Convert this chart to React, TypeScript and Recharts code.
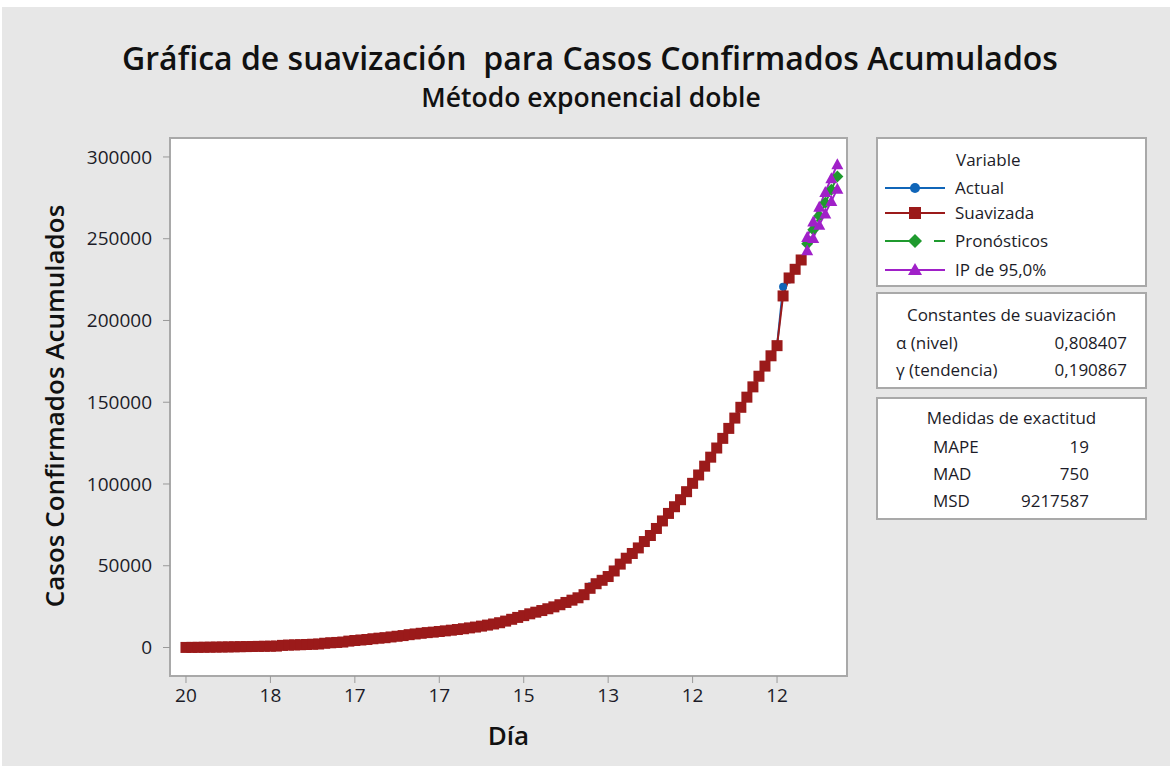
import { ComposedChart, Line, XAxis, YAxis } from 'recharts';

// día index -> label shown on the axis (every 14 observations)
const tickIdx = [0, 14, 28, 42, 56, 70, 84, 98];
const dayLabels = ['20', '18', '17', '17', '15', '13', '12', '12'];
const yTicks = [0, 50000, 100000, 150000, 200000, 250000, 300000];

const actual = [
  50, 80, 110, 150, 200, 250, 300, 360, 430, 500, 560, 620, 680, 740, 800, 870,
  1400, 1500, 1600, 1700, 1850, 2000, 2150,
  2700, 2900, 3100, 3350,
  4000, 4300, 4600, 4900,
  5400, 5700, 6000,
  6500, 6900, 7300,
  7900, 8300, 8700, 9100, 9400, 9800,
  10200, 10600, 11000, 11500, 12000, 12500, 13100, 13700,
  14400, 15200, 16200, 17300, 18400, 19500, 20600, 21600, 22600, 23700,
  24900, 26200, 27600, 29000, 30500, 32800,
  37500, 39000, 41000, 43500, 47500, 51500,
  54500, 57500, 61000, 65000, 68500, 73000, 77500, 82000,
  86000, 90500, 95500, 100500, 105500, 111000, 116500, 122000, 128000, 134000,
  140500, 147000, 153000, 159500, 166000, 172000, 178500, 184500,
  220600, 225000, 231400, 236700,
];

const smoothed = [
  40, 70, 105, 145, 195, 250, 300, 355, 425, 500, 560, 620, 680, 740, 800, 865,
  1300, 1480, 1590, 1700, 1840, 1990, 2140,
  2600, 2880, 3090, 3330,
  3900, 4280, 4590, 4890,
  5350, 5700, 6000,
  6450, 6880, 7290,
  7850, 8290, 8700, 9100, 9400, 9790,
  10180, 10590, 11000, 11480, 11990, 12500, 13080, 13700,
  14380, 15150, 16150, 17250, 18400, 19500, 20600, 21600, 22600, 23700,
  24850, 26150, 27550, 28950, 30400, 32300,
  36200, 39000, 41100, 43400, 46800, 51000,
  54600, 57500, 60900, 64800, 68500, 72800, 77400, 82000,
  86100, 90400, 95300, 100400, 105500, 110900, 116400, 122000, 127900, 134000,
  140300, 146900, 153100, 159400, 165900, 172100, 178400, 184600,
  215000, 226000, 231300, 237000,
];

const forecast = [247000, 255500, 264000, 272000, 280000, 288000];
const upperPI = [251000, 260500, 269500, 278500, 287000, 295500];
const lowerPI = [243000, 250500, 258500, 265500, 273000, 280500];

const BLUE = '#1065b8';
const RED = '#9b1a1a';
const GREEN = '#1f9a2e';
const PURPLE = '#a020c8';
const FONT = '"Open Sans", "Noto Sans", sans-serif';
const TXT = '#1c1c28';

const actualData = actual.map((v, i) => ({ x: i, y: v }));
const smoothData = smoothed.map((v, i) => ({ x: i, y: v }));
const fStart = actual.length;
const fcData = forecast.map((v, i) => ({ x: fStart + i, y: v }));
const upData = upperPI.map((v, i) => ({ x: fStart + i, y: v }));
const loData = lowerPI.map((v, i) => ({ x: fStart + i, y: v }));

const Square = (p: any) =>
  p.cx == null || p.cy == null ? <g key={p.key} /> : (
    <rect key={p.key} x={p.cx - 5.5} y={p.cy - 5.5} width={11} height={11} fill={RED} />
  );
const Circle = (p: any) =>
  p.cx == null || p.cy == null ? <g key={p.key} /> : (
    <circle key={p.key} cx={p.cx} cy={p.cy} r={4} fill={BLUE} />
  );
const Diamond = (p: any) =>
  p.cx == null || p.cy == null ? <g key={p.key} /> : (
    <polygon key={p.key} points={`${p.cx},${p.cy - 6} ${p.cx + 6},${p.cy} ${p.cx},${p.cy + 6} ${p.cx - 6},${p.cy}`} fill={GREEN} />
  );
const Triangle = (p: any) =>
  p.cx == null || p.cy == null ? <g key={p.key} /> : (
    <polygon key={p.key} points={`${p.cx},${p.cy - 6} ${p.cx + 6},${p.cy + 5} ${p.cx - 6},${p.cy + 5}`} fill={PURPLE} />
  );

function LegendRow({ y, color, label, marker, dashed }: any) {
  return (
    <div style={{ position: 'absolute', left: 0, top: y, height: 22, width: 270 }}>
      <svg width={70} height={22} style={{ position: 'absolute', left: 6, top: 0 }}>
        <line x1={1} y1={11} x2={61} y2={11} stroke={color} strokeWidth={2} strokeDasharray={dashed ? '32 17 12' : undefined} />
        {marker === 'circle' && <circle cx={31} cy={11} r={5} fill={color} />}
        {marker === 'square' && <rect x={25} y={5} width={12} height={12} fill={color} />}
        {marker === 'diamond' && <polygon points="31,4 38,11 31,18 24,11" fill={color} />}
        {marker === 'triangle' && <polygon points="31,4 38,16 24,16" fill={color} />}
      </svg>
      <span style={{ position: 'absolute', left: 77, top: 0, lineHeight: '22px', fontSize: 17 }}>{label}</span>
    </div>
  );
}

const boxStyle: any = {
  position: 'absolute',
  left: 876,
  width: 271,
  background: '#fff',
  border: '2px solid #a9a9a9',
  boxSizing: 'border-box',
  fontFamily: FONT,
  color: TXT,
};

export default function App() {
  return (
    <div style={{ position: 'absolute', left: 0, top: 0, width: 1175, height: 771, background: '#fff', overflow: 'hidden' }}>
      <div style={{ position: 'absolute', left: 2, top: 7, width: 1168, height: 759, background: '#e7e7e7' }} />
      <div style={{ position: 'absolute', left: 0, width: 1180, top: 36, textAlign: 'center', fontFamily: FONT, fontWeight: 600, fontSize: 32, color: '#111' }}>
        Gráfica de suavización&nbsp; para Casos Confirmados Acumulados
      </div>
      <div style={{ position: 'absolute', left: 0, width: 1182, top: 79, textAlign: 'center', fontFamily: FONT, fontWeight: 600, fontSize: 26.5, color: '#111' }}>
        Método exponencial doble
      </div>
      <div style={{ position: 'absolute', left: 169, top: 137, width: 679, height: 540, background: '#fff', border: '2px solid #a9a9a9', boxSizing: 'border-box' }} />
      <div style={{ position: 'absolute', left: 0, top: 0 }}>
        <ComposedChart width={1175} height={771} margin={{ top: 138, right: 328, bottom: 0, left: 0 }}>
          <XAxis
            type="number"
            dataKey="x"
            domain={[-2.65, 109.6]}
            allowDataOverflow
            ticks={tickIdx}
            tickFormatter={(v: number) => dayLabels[tickIdx.indexOf(v)] ?? ''}
            height={95}
            axisLine={false}
            tickLine={{ stroke: '#999' }}
            tickSize={7}
            tickMargin={6}
            tick={{ fill: TXT, fontSize: 19, fontFamily: FONT }}
            label={{ value: 'Día', position: 'insideBottom', offset: 26, fill: '#111', fontSize: 26, fontWeight: 600, fontFamily: FONT }}
          />
          <YAxis
            type="number"
            dataKey="y"
            domain={[-17430, 311600]}
            allowDataOverflow
            ticks={yTicks}
            width={170}
            axisLine={false}
            tickLine={{ stroke: '#999' }}
            tickSize={7}
            tickMargin={11}
            tick={{ fill: TXT, fontSize: 19, fontFamily: FONT }}
            label={{
              content: () => (
                <text x={64} y={406} transform="rotate(-90 64 406)" textAnchor="middle" fill="#111" fontSize={26} fontWeight={600} fontFamily={FONT}>
                  Casos Confirmados Acumulados
                </text>
              ),
            }}
          />
          <Line data={actualData} dataKey="y" stroke={BLUE} strokeWidth={2} dot={Circle} isAnimationActive={false} />
          <Line data={smoothData} dataKey="y" stroke={RED} strokeWidth={2} dot={Square} isAnimationActive={false} />
          <Line data={fcData} dataKey="y" stroke={GREEN} strokeWidth={2} strokeDasharray="8 4" dot={Diamond} isAnimationActive={false} />
          <Line data={upData} dataKey="y" stroke={PURPLE} strokeWidth={2} dot={Triangle} isAnimationActive={false} />
          <Line data={loData} dataKey="y" stroke={PURPLE} strokeWidth={2} dot={Triangle} isAnimationActive={false} />
        </ComposedChart>
      </div>

      <div style={{ ...boxStyle, top: 137, height: 150 }}>
        <div style={{ position: 'absolute', left: 0, width: 230, top: 9, textAlign: 'center', fontSize: 17 }}>
          <span style={{ position: 'absolute', left: 78, top: 0 }}>Variable</span>
        </div>
        <LegendRow y={38} color={BLUE} label="Actual" marker="circle" />
        <LegendRow y={63} color={RED} label="Suavizada" marker="square" />
        <LegendRow y={91} color={GREEN} label="Pronósticos" marker="diamond" dashed />
        <LegendRow y={120} color={PURPLE} label="IP de 95,0%" marker="triangle" />
      </div>

      <div style={{ ...boxStyle, top: 292, height: 97, fontSize: 17 }}>
        <div style={{ position: 'absolute', left: 0, width: 267, top: 9, textAlign: 'center' }}>Constantes de suavización</div>
        <div style={{ position: 'absolute', left: 18, top: 37 }}>α (nivel)</div>
        <div style={{ position: 'absolute', right: 18, top: 37 }}>0,808407</div>
        <div style={{ position: 'absolute', left: 18, top: 64 }}>γ (tendencia)</div>
        <div style={{ position: 'absolute', right: 18, top: 64 }}>0,190867</div>
      </div>

      <div style={{ ...boxStyle, top: 397, height: 123, fontSize: 17 }}>
        <div style={{ position: 'absolute', left: 0, width: 267, top: 7, textAlign: 'center' }}>Medidas de exactitud</div>
        <div style={{ position: 'absolute', left: 55, top: 36 }}>MAPE</div>
        <div style={{ position: 'absolute', right: 56, top: 36 }}>19</div>
        <div style={{ position: 'absolute', left: 55, top: 63 }}>MAD</div>
        <div style={{ position: 'absolute', right: 56, top: 63 }}>750</div>
        <div style={{ position: 'absolute', left: 55, top: 90 }}>MSD</div>
        <div style={{ position: 'absolute', right: 56, top: 90 }}>9217587</div>
      </div>
    </div>
  );
}
